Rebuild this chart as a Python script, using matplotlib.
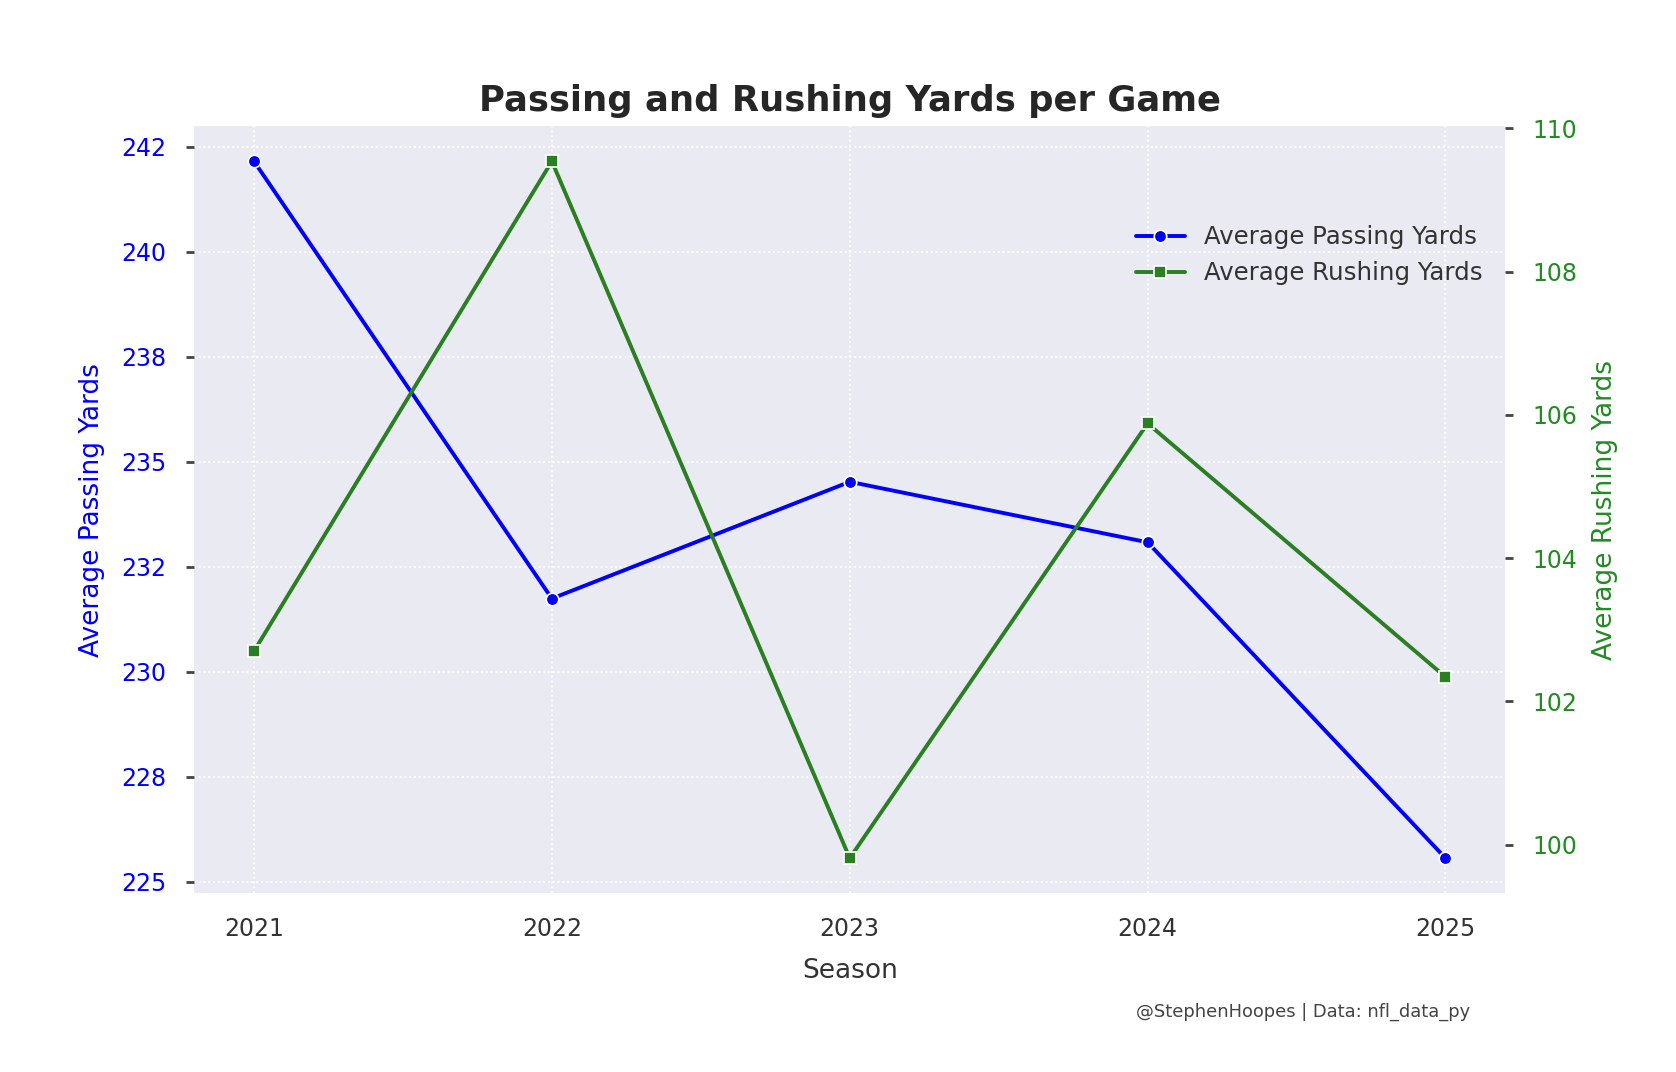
import numpy as np
import matplotlib
matplotlib.use('Agg')
import matplotlib.pyplot as plt
import seaborn as sns
from matplotlib.ticker import MultipleLocator, FuncFormatter

sns.set_style('darkgrid', {'grid.linestyle': ':'})
plt.rcParams['font.family'] = ['DejaVu Sans']

# ---- data ----
seasons = [2021, 2022, 2023, 2024, 2025]
avg_pass = [242.15, 231.74, 234.52, 233.08, 225.56]
avg_rush = [102.70, 109.54, 99.81, 105.88, 102.34]

pass_color = 'blue'
rush_color = '#2a7f22'
rush_text = 'forestgreen'

fig = plt.figure(figsize=(16.76, 10.72), dpi=100)
ax = fig.add_axes([0.116, 0.167, 0.782, 0.715])
ax2 = ax.twinx()

l1, = ax.plot(seasons, avg_pass, color=pass_color, lw=2.8, marker='o', ms=9,
              mec='white', mew=1.2, label='Average Passing Yards')
l2, = ax2.plot(seasons, avg_rush, color=rush_color, lw=2.8, marker='s', ms=9,
               mec='white', mew=1.2, label='Average Rushing Yards')

ax.set_xticks(seasons)
ax.yaxis.set_major_locator(MultipleLocator(2.5))
ax.yaxis.set_major_formatter(FuncFormatter(lambda v, p: f'{v:.0f}'))
ax2.yaxis.set_major_locator(MultipleLocator(2))
ax2.grid(False)
ax.grid(True, color='white', linestyle=':', linewidth=1.3)

ax.tick_params(axis='x', labelsize=17, colors='#333333', pad=14)
ax.tick_params(axis='y', labelsize=17, labelcolor=pass_color, length=6, width=2,
               color='#444444', pad=14)
ax2.tick_params(axis='y', labelsize=17, labelcolor=rush_text, length=6, width=2,
                color='#444444', pad=14)

ax.set_xlabel('Season', fontsize=19, color='#333333', labelpad=12)
ax.set_ylabel('Average Passing Yards', fontsize=19, color=pass_color, labelpad=12)
ax2.set_ylabel('Average Rushing Yards', fontsize=19, color=rush_text, labelpad=10)
ax.set_title('Passing and Rushing Yards per Game', fontsize=25.5, fontweight='bold',
             color='#262626', pad=11)

for a in (ax, ax2):
    for s in a.spines.values():
        s.set_visible(False)

ax.legend(handles=[l1, l2], loc='upper right', bbox_to_anchor=(1.0, 0.9),
          frameon=False, fontsize=17.6, labelcolor='#333333')

fig.text(0.877, 0.056, '@StephenHoopes | Data: nfl_data_py', ha='right',
         va='center', fontsize=12.9, color='#444444')

fig.savefig('out.png', dpi=100)
